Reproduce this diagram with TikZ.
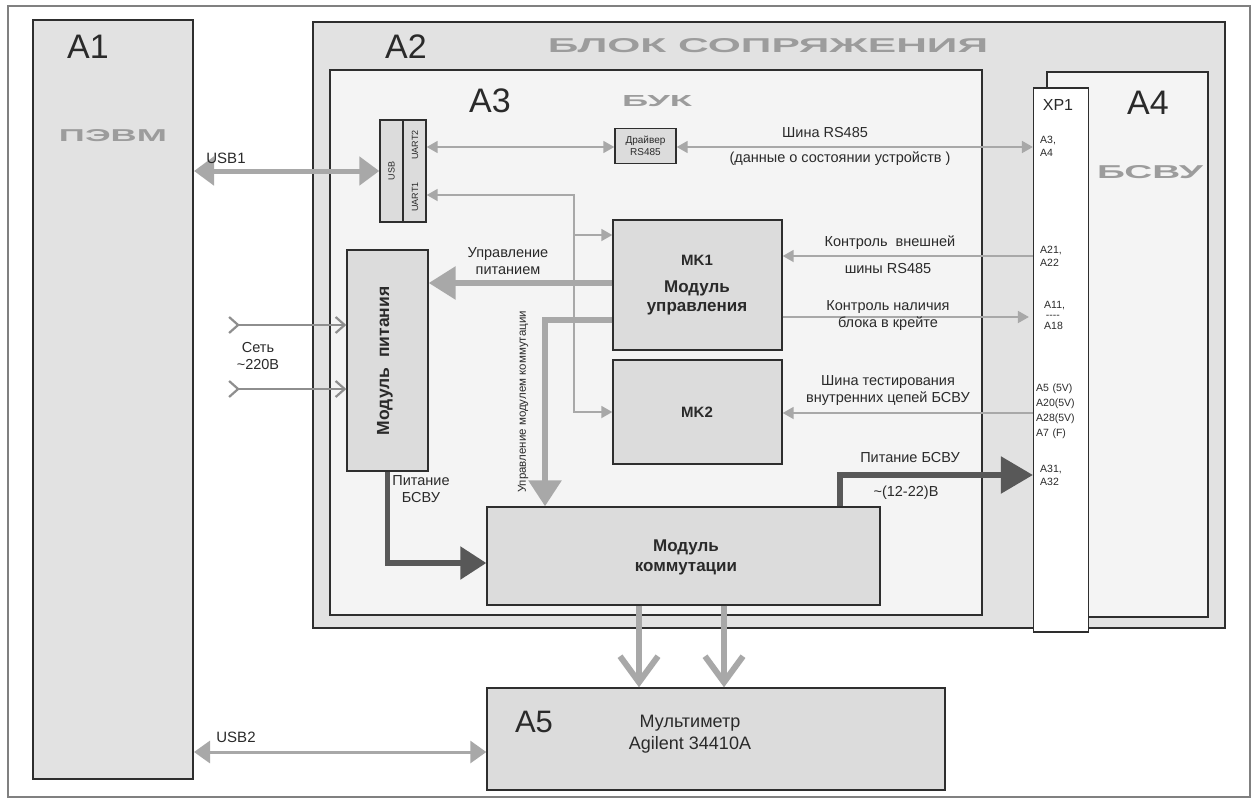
\documentclass[tikz,border=0pt]{standalone}
\usepackage{fontspec}
\setmainfont{Liberation Sans}
\usetikzlibrary{arrows.meta,calc}
\definecolor{boxfill}{HTML}{DCDCDC}
\definecolor{outerfill}{HTML}{E2E2E2}
\definecolor{innerfill}{HTML}{F4F4F4}
\definecolor{linegrey}{HTML}{A8A8A8}
\definecolor{netgrey}{HTML}{8E8E8E}
\definecolor{darkline}{HTML}{585858}
\definecolor{titlegrey}{HTML}{9C9C9C}
\definecolor{edge}{HTML}{2E2E2E}
\definecolor{txt}{HTML}{2A2A2A}
\begin{document}
\begin{tikzpicture}[x=1pt,y=-1pt,
  box/.style={draw=edge,line width=1.4pt,fill=boxfill,inner sep=0pt},
  outerbox/.style={draw=edge,line width=2pt,fill=outerfill,inner sep=0pt},
  innerbox/.style={draw=edge,line width=1.2pt,fill=innerfill,inner sep=0pt},
  whitebox/.style={draw=edge,line width=1.2pt,fill=white,inner sep=0pt},
  biglabel/.style={text=txt,font=\fontsize{34}{36}\selectfont,inner sep=0pt},
  greytitle/.style={text=titlegrey,font=\bfseries,inner sep=0pt},
  lbl/.style={text=txt,font=\fontsize{14.5}{17}\selectfont,inner sep=0pt,align=center},
  pin/.style={text=txt,font=\fontsize{10.5}{13}\selectfont,inner sep=0pt,align=left,anchor=west},
  boldlbl/.style={text=txt,font=\bfseries\fontsize{15}{18}\selectfont,inner sep=0pt,align=center},
  tiny/.style={text=txt,font=\fontsize{9}{10}\selectfont,inner sep=0pt},
  thinline/.style={draw=linegrey,line width=1.8pt},
  thinhead/.style={-{Triangle[length=11pt,width=12pt]}},
  thinboth/.style={{Triangle[length=11pt,width=12pt]}-{Triangle[length=11pt,width=12pt]}},
  usbthick/.style={draw=linegrey,line width=5pt,{Triangle[length=20pt,width=28pt]}-{Triangle[length=20pt,width=28pt]}},
  usbthin/.style={draw=linegrey,line width=3pt,{Triangle[length=16pt,width=22pt]}-{Triangle[length=16pt,width=22pt]}},
  greythick/.style={draw=linegrey,line width=6pt},
  darkthick/.style={draw=darkline,line width=5.5pt},
  vthick/.style={draw=linegrey,line width=6pt,-{Straight Barb[length=26pt,width=38pt]}},
  netline/.style={draw=netgrey,line width=2.2pt,{Straight Barb[reversed,length=9pt,width=16pt]}-{Straight Barb[length=9pt,width=16pt]}}
]
\useasboundingbox (0,0) rectangle (1257,803);
\fill[white] (0,0) rectangle (1257,803);
\draw[draw=gray,line width=1.5pt] (8,6) rectangle (1250,797);

% main containers
\node[outerbox,minimum width=912,minimum height=606] (A2) at (769,325) {};
\node[outerbox,minimum width=160,minimum height=759] (A1) at (113,399.5) {};
\node[innerbox,minimum width=652,minimum height=545] (A3) at (656,342.5) {};
\node[innerbox,minimum width=161,minimum height=545] (A4) at (1127.5,344.5) {};
\node[whitebox,minimum width=55,minimum height=544] (XP1) at (1061,360) {};

% container labels
\node[biglabel] (A1l) at (88,47) {A1};
\node[greytitle] (A1t) at (113,136) {\resizebox{108pt}{12pt}{ПЭВМ}};
\node[biglabel] (A2l) at (406,47) {A2};
\node[greytitle] (A2t) at (768,46) {\resizebox{440pt}{14pt}{БЛОК СОПРЯЖЕНИЯ}};
\node[biglabel] (A3l) at (490,101) {A3};
\node[greytitle] (A3t) at (657,101) {\resizebox{70pt}{11pt}{БУК}};
\node[biglabel] (A4l) at (1148,103) {A4};
\node[greytitle] (A4t) at (1150,172) {\resizebox{106pt}{13pt}{БСВУ}};
\node[text=txt,font=\fontsize{16}{18}\selectfont,inner sep=0pt] (XPl) at (1058,105) {XP1};

% pins
\node[pin] (p1) at (1040,146) {A3,\\A4};
\node[pin] (p2) at (1040,256) {A21,\\A22};
\node[pin] (p3) at (1044,315) {A11,\\[-3pt]\,{-}{-}{-}{-}\\[-2pt]A18};
\node[pin,font=\fontsize{10.5}{15}\selectfont] (p4) at (1036,411) {A5\,\,(5V)\\A20(5V)\\A28(5V)\\A7\,\,(F)};
\node[pin] (p5) at (1040,475) {A31,\\A32};

% inner blocks
\node[box,minimum width=23,minimum height=102] (USB) at (391.5,171) {};
\node[box,minimum width=23,minimum height=102] (UART) at (414.5,171) {};
\node[tiny,rotate=90] (USBt) at (391.5,171) {USB};
\node[tiny,rotate=90] (U2t) at (415,145) {UART2};
\node[tiny,rotate=90] (U1t) at (415,197) {UART1};
\node[box,minimum width=61,minimum height=35] (Drv) at (645.5,146) {};
\node[text=txt,font=\fontsize{10}{11.5}\selectfont,inner sep=0pt,align=center] (Drvt) at (645.5,146) {Драйвер\\RS485};
\node[box,minimum width=169,minimum height=130] (MK1) at (697.5,285) {};
\node[boldlbl] (MK1a) at (697,260) {MK1};
\node[boldlbl,font=\bfseries\fontsize{17}{19}\selectfont] (MK1b) at (697,298) {Модуль\\управления};
\node[box,minimum width=169,minimum height=104] (MK2) at (697.5,412) {};
\node[boldlbl] (MK2a) at (697,412) {MK2};
\node[box,minimum width=81,minimum height=221] (PWR) at (387.5,360.5) {};
\node[boldlbl,rotate=90,font=\bfseries\fontsize{17.5}{19}\selectfont] (PWRt) at (385,361) {Модуль\ \ питания};
\node[box,minimum width=393,minimum height=98] (COMM) at (683.5,556) {};
\node[boldlbl,font=\bfseries\fontsize{17}{20}\selectfont] (COMMt) at (686,557) {Модуль\\коммутации};
\node[box,minimum width=458,minimum height=102] (A5) at (716,739) {};
\node[biglabel,font=\fontsize{31}{34}\selectfont] (A5l) at (534,722) {A5};
\node[lbl,font=\fontsize{18}{22}\selectfont] (A5t) at (690,734) {Мультиметр\\Agilent 34410A};

% level coordinates
\coordinate (yU1) at (0,195);
\coordinate (xBus) at (574,0);
\coordinate (yMK1b) at (0,235);
\coordinate (yMK2b) at (0,412);
\coordinate (yUP) at (0,283);
\coordinate (yMC) at (0,320);
\coordinate (xMC) at (545,0);
\coordinate (xNet) at (228,0);
\coordinate (yN1) at (0,325);
\coordinate (yN2) at (0,389);
\coordinate (yPD) at (0,563);
\coordinate (xCX) at (840,0);
\coordinate (yCX) at (0,475);
\coordinate (xD1) at (639,0);
\coordinate (xD2) at (724,0);
\coordinate (yUSB2) at (0,752);
\coordinate (yK1) at (0,256);
\coordinate (yK2) at (0,317);
\coordinate (yK3) at (0,413);
\coordinate (yBus) at (0,147);

% connectors
\draw[usbthick] (A1.east |- USB.west) -- (USB.west);
\draw[thinline,thinboth] (UART.east |- yBus) -- (Drv.west |- yBus);
\draw[thinline,thinboth] (Drv.east |- yBus) -- (XP1.west |- yBus);
\draw[thinline,{Triangle[length=11pt,width=12pt]}-{Triangle[length=11pt,width=12pt]}] (UART.east |- yU1) -- (xBus |- yU1) -- (xBus |- yMK2b) -- (MK2.west |- yMK2b);
\draw[thinline,thinhead] (xBus |- yMK1b) -- (MK1.west |- yMK1b);
\draw[greythick,-{Triangle[length=27pt,width=32pt]}] (MK1.west |- yUP) -- (PWR.east |- yUP);
\draw[greythick,-{Triangle[length=26pt,width=32pt]}] (MK1.west |- yMC) -- (xMC |- yMC) -- (xMC |- COMM.north);
\draw[netline] (xNet |- yN1) -- (PWR.west |- yN1);
\draw[netline] (xNet |- yN2) -- (PWR.west |- yN2);
\draw[darkthick,-{Triangle[length=26pt,width=32pt]}] (PWR.south) -- (PWR.south |- yPD) -- (COMM.west |- yPD);
\draw[darkthick,-{Triangle[length=32pt,width=36pt]}] (xCX |- COMM.north) -- (xCX |- yCX) -- (XP1.west |- yCX);
\draw[vthick] (xD1 |- COMM.south) -- (xD1 |- A5.north);
\draw[vthick] (xD2 |- COMM.south) -- (xD2 |- A5.north);
\draw[usbthin] (A1.east |- yUSB2) -- (A5.west |- yUSB2);
\draw[thinline,thinhead] (XP1.west |- yK1) -- (MK1.east |- yK1);
\draw[thinline,thinhead] (MK1.east |- yK2) -- ([xshift=-4pt]XP1.west |- yK2);
\draw[thinline,thinhead] (XP1.west |- yK3) -- (MK2.east |- yK3);

% connector labels
\node[lbl,font=\fontsize{15}{17}\selectfont] (lUSB1) at (226,158) {USB1};
\node[lbl,font=\fontsize{15}{17}\selectfont] (lUSB2) at (236,737) {USB2};
\node[lbl] (lRS1) at (825,133) {Шина RS485};
\node[lbl] (lRS2) at (840,159) {(данные о состоянии устройств )};
\node[lbl] (lUP) at (508,261) {Управление\\питанием};
\node[lbl] (lNet) at (258,356) {Сеть\\\textasciitilde220В};
\node[lbl] (lK1a) at (890,243) {Контроль\ \ внешней};
\node[lbl] (lK1b) at (888,269) {шины RS485};
\node[lbl] (lK2) at (888,316) {Контроль наличия\\блока в крейте};
\node[lbl] (lK3) at (888,391) {Шина тестирования\\внутренних цепей БСВУ};
\node[lbl] (lPD) at (421,489) {Питание\\БСВУ};
\node[lbl] (lCX1) at (910,458) {Питание БСВУ};
\node[lbl] (lCX2) at (906,493) {\textasciitilde(12-22)В};
\node[lbl,rotate=90,font=\fontsize{11.5}{12}\selectfont] (lMC) at (523,402) {Управление модулем коммутации};
\end{tikzpicture}
\end{document}
